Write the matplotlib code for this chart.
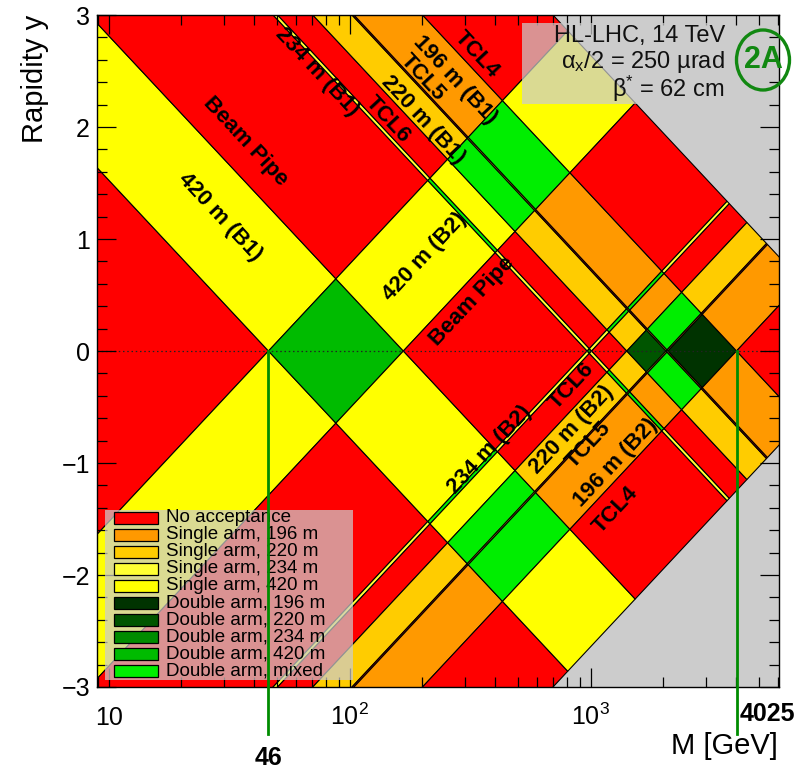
import numpy as np
import matplotlib
matplotlib.use("Agg")
import matplotlib.pyplot as plt
from matplotlib.patches import Polygon, Rectangle, Ellipse
from matplotlib.transforms import blended_transform_factory

plt.rcParams['font.family'] = ['Liberation Sans', 'DejaVu Sans']
plt.rcParams['mathtext.fontset'] = 'custom'
plt.rcParams['mathtext.rm'] = 'Liberation Sans'
plt.rcParams['mathtext.it'] = 'Liberation Sans:italic'
plt.rcParams['mathtext.bf'] = 'Liberation Sans:bold'

SQRT_S = 14000.0  # GeV

# xi bands seen by one arm (same for B1 and B2) and the station accepting each band
xi_edges = [1e-6, 0.003286, 0.01192, 0.0690, 0.0720, 0.1008, 0.1466, 0.1494, 0.2875, 1.0]
xi_station = [None, '420', None, '234', None, '220', None, '196', None]

station_names = ['196', '220', '234', '420']
single_colors = ['#FF9900', '#FFCC00', '#FFFF33', '#FFFF00']
double_colors = ['#003300', '#005500', '#008C00', '#00BB00']
no_acc_color = '#FF0000'
mixed_color = '#00EE00'
kin_color = '#CCCCCC'

legend_labels = ['No acceptance',
                 'Single arm, 196 m', 'Single arm, 220 m', 'Single arm, 234 m', 'Single arm, 420 m',
                 'Double arm, 196 m', 'Double arm, 220 m', 'Double arm, 234 m', 'Double arm, 420 m',
                 'Double arm, mixed']
legend_colors = [no_acc_color] + single_colors + double_colors + [mixed_color]

# band annotations (B1 bands run down-right, B2 bands up-right)
b1_labels = ['Beam Pipe', '420 m (B1)', '234 m (B1)', 'TCL6', '220 m (B1)', 'TCL5', '196 m (B1)', 'TCL4']
b1_label_M = [36.8, 28.9, 73.2, 144, 201, 201, 273.5, 337.5]
b1_label_y = [1.87, 1.20, 2.49, 2.07, 2.06, 2.44, 2.42, 2.65]
b2_labels = ['420 m (B2)', 'Beam Pipe', '234 m (B2)', 'TCL6', '220 m (B2)', 'TCL5', '196 m (B2)', 'TCL4']
b2_label_M = [205, 322, 382, 836, 829, 984, 1274, 1270]
b2_label_y = [0.84, 0.44, -0.88, -0.31, -0.70, -0.84, -1.00, -1.42]

# mass limits marked at y = 0
mark_M = [46, 4025]

x_ticks = [10, 100, 1000]
x_tick_labels = ['10', '$10^{2}$', '$10^{3}$']


def region_color(s1, s2):
    if s1 is None and s2 is None:
        return no_acc_color
    if s1 is None or s2 is None:
        return single_colors[station_names.index(s1 or s2)]
    if s1 == s2:
        return double_colors[station_names.index(s1)]
    return mixed_color


W, H = 800, 771
fig = plt.figure(figsize=(W / 100, H / 100), dpi=100)
ax = fig.add_axes([97 / W, 1 - 687 / H, 681.5 / W, 672 / H])
ax.set_facecolor(kin_color)


def fpx(x, y):
    # pixel position (from top-left) -> figure fraction
    return x / W, 1 - y / H


# each pair of xi bands is a diamond in (log M, y)
for i, s1 in enumerate(xi_station):
    for j, s2 in enumerate(xi_station):
        u0, u1 = np.log(xi_edges[i]), np.log(xi_edges[i + 1])
        v0, v1 = np.log(xi_edges[j]), np.log(xi_edges[j + 1])
        pts = [(SQRT_S * np.exp((u + v) / 2), (u - v) / 2)
               for u, v in [(u0, v0), (u1, v0), (u1, v1), (u0, v1)]]
        ax.add_patch(Polygon(pts, closed=True, facecolor=region_color(s1, s2),
                             edgecolor='black', lw=0.8, zorder=1))

ax.set_xscale('log')
ax.set_xlim(8.94, 6010)
ax.set_ylim(-3, 3)
ax.axhline(0, color='#222222', lw=0.9, ls=(0, (1.2, 2.2)), zorder=2)

for lab, m, y in zip(b1_labels, b1_label_M, b1_label_y):
    ax.text(m, y, lab, rotation=-47, rotation_mode='anchor', ha='center', va='center',
            fontsize=16, fontweight='bold', zorder=3)
for lab, m, y in zip(b2_labels, b2_label_M, b2_label_y):
    ax.text(m, y, lab, rotation=47, rotation_mode='anchor', ha='center', va='center',
            fontsize=16, fontweight='bold', zorder=3)

# ticks, ROOT style
ax.set_yticks(np.arange(-3, 4, 1))
ax.set_yticks(np.arange(-3, 3.01, 0.2), minor=True)
ax.tick_params(which='both', direction='in', top=True, right=True, width=0.9)
ax.tick_params(which='major', length=14, labelsize=18, pad=5)
ax.tick_params(which='minor', length=7.5)
ax.tick_params(axis='x', which='both', labelbottom=False)
ax.set_axisbelow(False)
for sp in ax.spines.values():
    sp.set_linewidth(1.0)

xt = blended_transform_factory(ax.transData, ax.transAxes)
for t, lab in zip(x_ticks, x_tick_labels):
    ax.text(t, -38 / 672, lab, transform=xt, ha='center', va='baseline', fontsize=18, clip_on=False)

fig.text(35 / W, 1 - 15 / H, 'Rapidity y', rotation=90, ha='center', va='top', fontsize=21)
fig.text(778 / W, 1 - 746 / H, 'M [GeV]', ha='right', va='center', fontsize=21)

# mass limit markers
for m in mark_M:
    ax.plot([m, m], [0, -3.42], color='#008C00', lw=2, clip_on=False, zorder=6)
ax.text(mark_M[0], -3.634, str(mark_M[0]), ha='center', va='center', fontsize=18,
        fontweight='bold', clip_on=False)
ax.annotate(str(mark_M[1]), xy=(mark_M[1], -3.24), xytext=(2, 0), textcoords='offset points',
            ha='left', va='center', fontsize=18, fontweight='bold', annotation_clip=False)

# legend, drawn by hand inside the frame
x0, y0 = fpx(105, 680)
x1, y1 = fpx(353, 510)
ax.add_patch(Rectangle((x0, y0), x1 - x0, y1 - y0, transform=fig.transFigure,
                       facecolor='#CCCCCC', alpha=0.72, edgecolor='none', clip_on=False, zorder=4))
for k, (lab, col) in enumerate(zip(legend_labels, legend_colors)):
    yc = 517.7 + 17.0 * k
    sx, sy = fpx(114, yc + 6)
    ax.add_patch(Rectangle((sx, sy), 44 / W, 12 / H, transform=fig.transFigure,
                           facecolor=col, edgecolor='black', lw=0.9, clip_on=False, zorder=5))
    tx, ty = fpx(166, yc)
    ax.text(tx, ty, lab, transform=fig.transFigure, ha='left', va='center',
            fontsize=13.5, zorder=5)

# running conditions box
bx0, by0 = fpx(522, 104)
bx1, by1 = fpx(734, 23)
ax.add_patch(Rectangle((bx0, by0), bx1 - bx0, by1 - by0, transform=fig.transFigure,
                       facecolor='#CCCCCC', alpha=0.72, edgecolor='none', clip_on=False, zorder=4))
info_lines = ['HL-LHC, 14 TeV', r'α$_{\mathrm{x}}$/2 = 250 µrad', r'β$^{*}$ = 62 cm']
for line, yc in zip(info_lines, [36, 62, 89]):
    tx, ty = fpx(725, yc)
    ax.text(tx, ty, line, transform=fig.transFigure, ha='right', va='center',
            fontsize=17, color='#111111', zorder=5)

ex, ey = fpx(763, 60)
ax.add_patch(Ellipse((ex, ey), 53 / W, 60 / H, transform=fig.transFigure, facecolor='none',
                     edgecolor='#118811', lw=2.4, clip_on=False, zorder=6))
ax.text(ex, ey, '2A', transform=fig.transFigure, ha='center', va='center', fontsize=22,
        fontweight='bold', color='#118811', zorder=6)

fig.savefig('out.png', dpi=100)
